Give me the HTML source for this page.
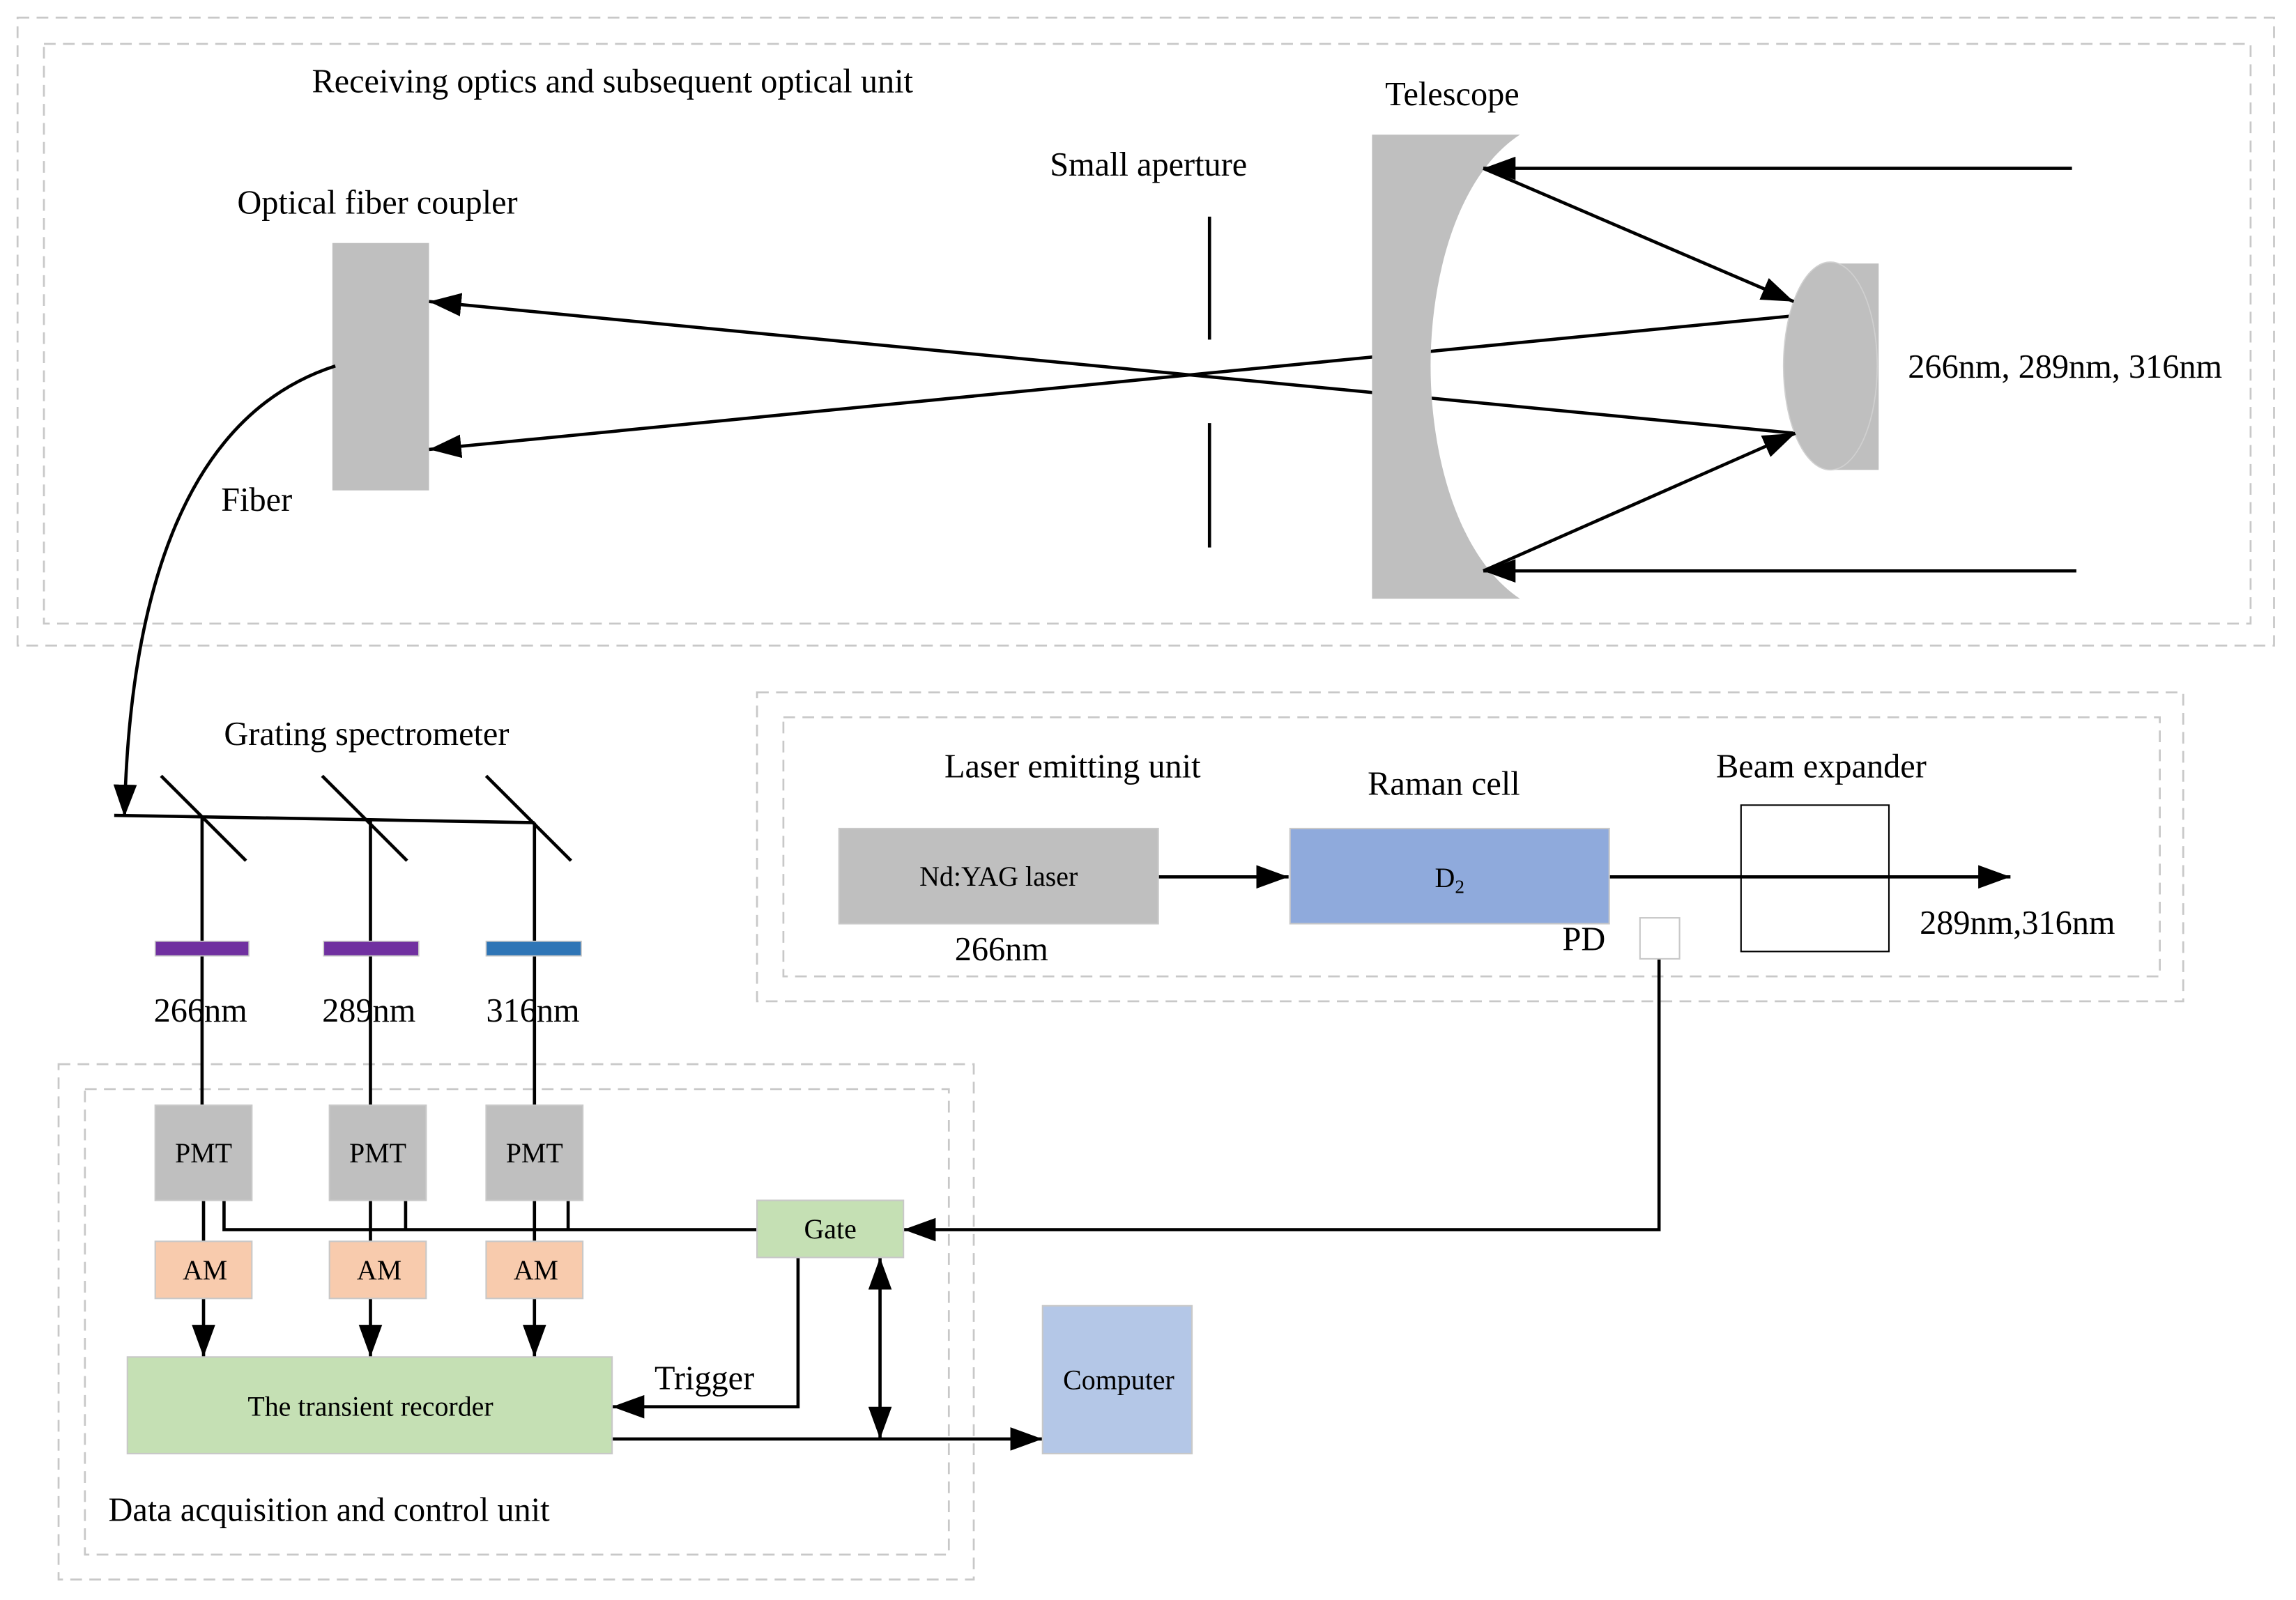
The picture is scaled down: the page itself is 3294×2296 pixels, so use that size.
<!DOCTYPE html>
<html><head><meta charset="utf-8"><style>
html,body{margin:0;padding:0;background:#fff;}
svg{display:block;}
text{font-family:"Liberation Serif",serif;fill:#000;}
</style></head><body>
<svg width="3294" height="2296" viewBox="0 0 1568 1093" preserveAspectRatio="none" xmlns="http://www.w3.org/2000/svg">
<defs>
<marker id="b" viewBox="0 0 10 10" refX="10" refY="5" markerWidth="22" markerHeight="16" orient="auto-start-reverse" markerUnits="userSpaceOnUse" preserveAspectRatio="none">
<path d="M0,0 L10,5 L0,10 Z" fill="#000"/></marker>
</defs>
<g fill="none" stroke="#c8c8c8" stroke-width="1.3" stroke-dasharray="8,5">
<rect x="12" y="12" width="1541" height="429"/>
<rect x="30" y="30" width="1507" height="396"/>
<rect x="517" y="473" width="974" height="211"/>
<rect x="535" y="490" width="940" height="177"/>
<rect x="40" y="727" width="625" height="352"/>
<rect x="58" y="744" width="590" height="318"/>
</g>
<g stroke="#000" stroke-width="2.2" fill="none">
<line x1="1222" y1="216" x2="293" y2="307" marker-end="url(#b)"/>
<line x1="1226" y1="296" x2="293" y2="206" marker-end="url(#b)"/>
</g>
<path d="M937,92 H1038 C995,120 977,190 977,250 C977,310 995,380 1038,409 H937 Z" fill="#bfbfbf"/>
<rect x="1250" y="180" width="33" height="141" fill="#bfbfbf"/>
<ellipse cx="1250" cy="250" rx="32" ry="71" fill="#bfbfbf" stroke="#d0d0d0" stroke-width="0.8"/>
<rect x="227" y="166" width="66" height="169" fill="#bfbfbf"/>
<g stroke="#000" stroke-width="2.2" fill="none">
<line x1="1415" y1="115" x2="1013" y2="115" marker-end="url(#b)"/>
<line x1="1013" y1="115" x2="1225" y2="206" marker-end="url(#b)"/>
<line x1="1418" y1="390" x2="1013" y2="390" marker-end="url(#b)"/>
<line x1="1013" y1="390" x2="1226" y2="296" marker-end="url(#b)"/>
<line x1="826" y1="148" x2="826" y2="232"/>
<line x1="826" y1="289" x2="826" y2="374"/>
<path d="M229,250 C120,285 88,420 85,558" marker-end="url(#b)"/>
<polyline points="78,557 138,558 253,560 365,562"/>
<line x1="110" y1="530" x2="168" y2="588"/>
<line x1="220" y1="530" x2="278" y2="588"/>
<line x1="332" y1="530" x2="390" y2="588"/>
<line x1="138" y1="558" x2="138" y2="755"/>
<line x1="253" y1="560" x2="253" y2="755"/>
<line x1="365" y1="562" x2="365" y2="755"/>
<line x1="139" y1="820" x2="139" y2="848"/>
<line x1="253" y1="820" x2="253" y2="848"/>
<line x1="365" y1="820" x2="365" y2="848"/>
<line x1="139" y1="887" x2="139" y2="927" marker-end="url(#b)"/>
<line x1="253" y1="887" x2="253" y2="927" marker-end="url(#b)"/>
<line x1="365" y1="887" x2="365" y2="927" marker-end="url(#b)"/>
<polyline points="153,820 153,840 517,840"/>
<line x1="277" y1="820" x2="277" y2="840"/>
<line x1="388" y1="820" x2="388" y2="840"/>
<polyline points="545,859 545,961 418,961" marker-end="url(#b)"/>
<line x1="601" y1="859" x2="601" y2="983" marker-end="url(#b)" marker-start="url(#b)"/>
<line x1="418" y1="983" x2="712" y2="983" marker-end="url(#b)"/>
<polyline points="1133,655 1133,840 617,840" marker-end="url(#b)"/>
<line x1="791" y1="599" x2="880" y2="599" marker-end="url(#b)"/>
<line x1="1099" y1="599" x2="1373" y2="599" marker-end="url(#b)"/>
</g>
<rect x="106" y="643" width="64" height="10" fill="#7030a0" stroke="#c8c8c8" stroke-width="0.8"/>
<rect x="221" y="643" width="65" height="10" fill="#7030a0" stroke="#c8c8c8" stroke-width="0.8"/>
<rect x="332" y="643" width="65" height="10" fill="#2e75b6" stroke="#c8c8c8" stroke-width="0.8"/>
<g stroke="#c8c8c8" stroke-width="1">
<rect x="106" y="755" width="66" height="65" fill="#bfbfbf"/>
<rect x="225" y="755" width="66" height="65" fill="#bfbfbf"/>
<rect x="332" y="755" width="66" height="65" fill="#bfbfbf"/>
<rect x="106" y="848" width="66" height="39" fill="#f8cbad"/>
<rect x="225" y="848" width="66" height="39" fill="#f8cbad"/>
<rect x="332" y="848" width="66" height="39" fill="#f8cbad"/>
<rect x="87" y="927" width="331" height="66" fill="#c5e0b4"/>
<rect x="517" y="820" width="100" height="39" fill="#c5e0b4"/>
<rect x="712" y="892" width="102" height="101" fill="#b4c7e7"/>
<rect x="573" y="566" width="218" height="65" fill="#bfbfbf"/>
<rect x="881" y="566" width="218" height="65" fill="#8faadc"/>
<rect x="1120" y="627" width="27" height="28" fill="#fff"/>
</g>
<rect x="1189" y="550" width="101" height="100" fill="none" stroke="#000" stroke-width="1"/>
<g font-size="23">
<text x="213" y="63">Receiving optics and subsequent optical unit</text>
<text x="946" y="72">Telescope</text>
<text x="717" y="120">Small aperture</text>
<text x="162" y="146">Optical fiber coupler</text>
<text x="1303" y="258">266nm, 289nm, 316nm</text>
<text x="151" y="349">Fiber</text>
<text x="153" y="509">Grating spectrometer</text>
<text x="645" y="531">Laser emitting unit</text>
<text x="934" y="543">Raman cell</text>
<text x="1172" y="531">Beam expander</text>
<text x="652" y="656">266nm</text>
<text x="1067" y="649">PD</text>
<text x="1311" y="638">289nm,316nm</text>
<text x="105" y="698">266nm</text>
<text x="220" y="698">289nm</text>
<text x="332" y="698">316nm</text>
<text x="447" y="949">Trigger</text>
<text x="74" y="1039">Data acquisition and control unit</text>
</g>
<g font-size="19" text-anchor="middle">
<text x="139" y="794">PMT</text>
<text x="258" y="794">PMT</text>
<text x="365" y="794">PMT</text>
<text x="140" y="874">AM</text>
<text x="259" y="874">AM</text>
<text x="366" y="874">AM</text>
<text x="253" y="967">The transient recorder</text>
<text x="567" y="846">Gate</text>
<text x="764" y="949">Computer</text>
<text x="682" y="605">Nd:YAG laser</text>
<text x="990" y="606">D<tspan font-size="13" dy="4">2</tspan></text>
</g>
</svg>
</body></html>
